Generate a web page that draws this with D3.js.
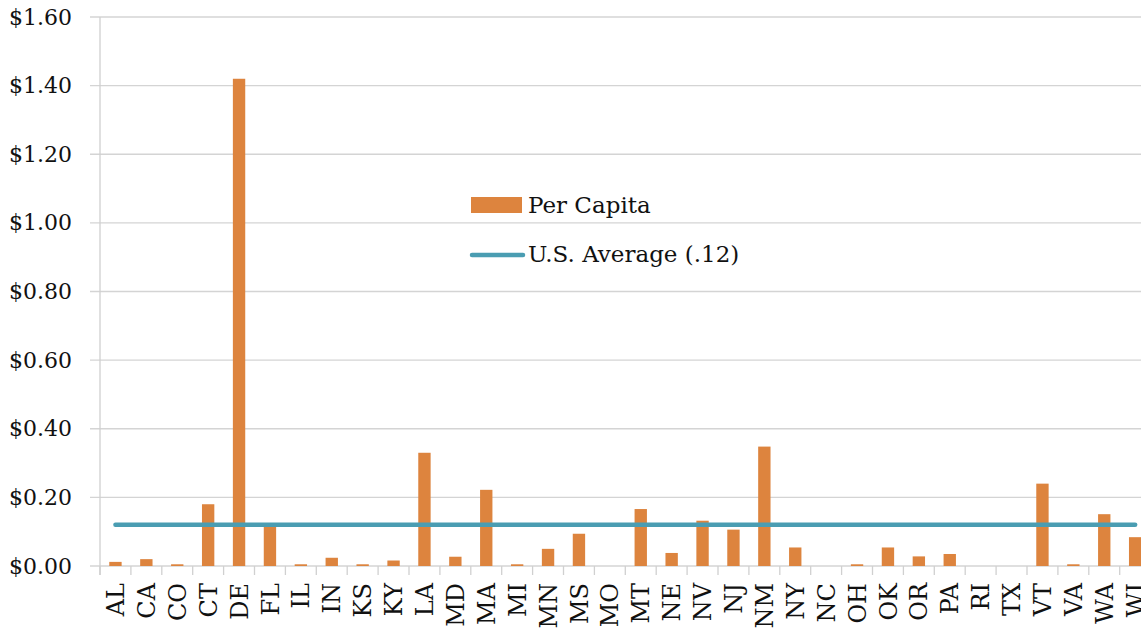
<!DOCTYPE html>
<html>
<head>
<meta charset="utf-8">
<script src="https://cdn.jsdelivr.net/npm/d3@7"></script>
<style>
  body { margin: 0; background: #fff; }
  svg { display: block; overflow: hidden; }
  text { font-family: "DejaVu Serif", "Liberation Serif", serif; fill: #111; }
</style>
</head>
<body>
<main></main>
<script>
// states on the x axis
const states = ["AL", "CA", "CO", "CT", "DE", "FL", "IL", "IN", "KS", "KY", "LA", "MD", "MA", "MI",
  "MN", "MS", "MO", "MT", "NE", "NV", "NJ", "NM", "NY", "NC", "OH", "OK", "OR", "PA", "RI", "TX",
  "VT", "VA", "WA", "WI"];
// per capita values
const perCapita = [0.012, 0.02, 0.005, 0.18, 1.42, 0.12, 0.005, 0.024, 0.005, 0.016, 0.33, 0.027,
  0.222, 0.005, 0.05, 0.094, 0, 0.166, 0.038, 0.132, 0.106, 0.348, 0.054, 0, 0.005, 0.054, 0.028,
  0.035, 0, 0, 0.24, 0.005, 0.151, 0.084];
const usAverage = 0.12;
const yTicks = [0, 0.2, 0.4, 0.6, 0.8, 1.0, 1.2, 1.4, 1.6];
const legendLabels = ["Per Capita", "U.S. Average (.12)"];

const dataset = states.map((s, i) => ({ state: s, value: perCapita[i] }));

// set the dimensions and margins of the graph
const margin = { top: 17, left: 100 },
  width = 34 * 30.9,
  height = 549;

const svg = d3.select("main")
  .append("svg")
  .attr("width", 1141)
  .attr("height", 633)
  .append("g")
  .attr("transform", `translate(${margin.left},${margin.top})`);

const y = d3.scaleLinear().domain([0, 1.6]).range([height, 0]);

const xOuter = d3.scaleBand().domain(states).range([0, width]);
const x = d3.scaleBand()
  .domain(states)
  .range([0, width])
  .paddingInner(0.6)
  .paddingOuter(0.3);

// gridlines
svg.append("g")
  .selectAll("line")
  .data(yTicks)
  .join("line")
  .attr("x1", -10)
  .attr("x2", width)
  .attr("y1", d => y(d))
  .attr("y2", d => y(d))
  .attr("stroke", "#d4d4d4")
  .attr("stroke-width", 1.3);

// y axis
const yAxis = svg.append("g")
  .call(d3.axisLeft(y)
    .tickValues(yTicks)
    .tickSize(0)
    .tickPadding(28)
    .tickFormat(d => "$" + d.toFixed(2)));
yAxis.select(".domain").remove();
yAxis.selectAll("text").attr("font-size", "22px").attr("fill", "#111");

svg.append("line")
  .attr("x1", 0).attr("x2", 0)
  .attr("y1", 0).attr("y2", height + 9)
  .attr("stroke", "#d0d0d0")
  .attr("stroke-width", 1.3);

// x axis: boundary ticks between the states
const bounds = states.map(s => xOuter(s)).concat([width]);
svg.append("g")
  .selectAll("line")
  .data(bounds)
  .join("line")
  .attr("x1", d => d)
  .attr("x2", d => d)
  .attr("y1", height)
  .attr("y2", height + 9)
  .attr("stroke", "#d0d0d0")
  .attr("stroke-width", 1.3);

svg.append("g")
  .selectAll("text")
  .data(states)
  .join("text")
  .attr("transform", d => `translate(${xOuter(d) + xOuter.bandwidth() / 2},${height + 17}) rotate(-90)`)
  .attr("text-anchor", "end")
  .attr("dy", "0.36em")
  .attr("font-size", "24px")
  .text(d => d);

// bars
svg.append("g")
  .selectAll("rect")
  .data(dataset)
  .join("rect")
  .attr("x", d => x(d.state))
  .attr("y", d => y(d.value))
  .attr("width", x.bandwidth())
  .attr("height", d => height - y(d.value))
  .attr("fill", "#dd843e");

// U.S. average line
const center = s => xOuter(s) + xOuter.bandwidth() / 2;
svg.append("line")
  .attr("x1", center(states[0]))
  .attr("x2", center(states[states.length - 1]))
  .attr("y1", y(usAverage))
  .attr("y2", y(usAverage))
  .attr("stroke", "#4a9db2")
  .attr("stroke-width", 4.5)
  .attr("stroke-linecap", "round");

// legend
const legend = svg.append("g").attr("transform", `translate(${471 - margin.left},${197 - margin.top})`);
legend.append("rect")
  .attr("x", 0).attr("y", 0)
  .attr("width", 51).attr("height", 16)
  .attr("fill", "#dd843e");
legend.append("text")
  .attr("x", 57).attr("y", 16)
  .attr("font-size", "23px")
  .text(legendLabels[0]);
legend.append("line")
  .attr("x1", 1).attr("x2", 52)
  .attr("y1", 58).attr("y2", 58)
  .attr("stroke", "#4a9db2")
  .attr("stroke-width", 4.5)
  .attr("stroke-linecap", "round");
legend.append("text")
  .attr("x", 57).attr("y", 65)
  .attr("font-size", "23px")
  .text(legendLabels[1]);
</script>
</body>
</html>
